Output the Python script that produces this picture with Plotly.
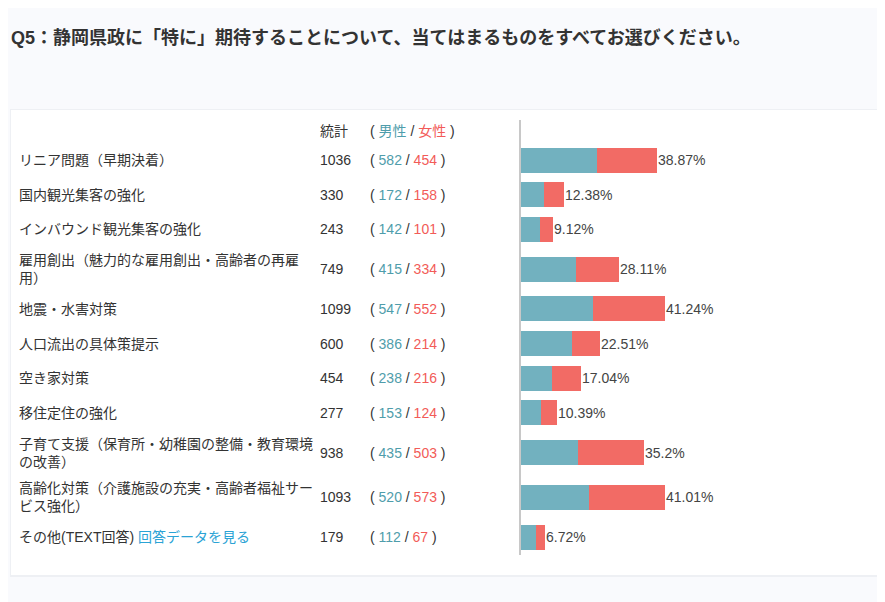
import plotly.graph_objects as go

# données
N = 2665  # nombre de répondants
labels = [
    "リニア問題（早期決着）",
    "国内観光集客の強化",
    "インバウンド観光集客の強化",
    "雇用創出（魅力的な雇用創出・高齢者の再雇<br>用）",
    "地震・水害対策",
    "人口流出の具体策提示",
    "空き家対策",
    "移住定住の強化",
    "子育て支援（保育所・幼稚園の整備・教育環境<br>の改善）",
    "高齢化対策（介護施設の充実・高齢者福祉サー<br>ビス強化）",
    "その他(TEXT回答) <span style='color:#2ba3d5'>回答データを見る</span>",
]
totals = [1036, 330, 243, 749, 1099, 600, 454, 277, 938, 1093, 179]
male = [582, 172, 142, 415, 547, 386, 238, 153, 435, 520, 112]
female = [454, 158, 101, 334, 552, 214, 216, 124, 503, 573, 67]

# la page a une marge de 8px autour de la figure
OFF = 8
W, H = 885, 602


def px(x):
    return (x - OFF) / W


def py(y):
    return 1 - (y - OFF) / H


BLUE = '#72b1bf'
RED = '#f26b65'
TXT_BLUE = '#4f9dab'
TXT_RED = '#f25b58'
FONT = 'Liberation Sans, Noto Sans CJK JP, sans-serif'
FS = 14

# position verticale des lignes (hauteur selon le nombre de lignes du libellé)
heights = [44.7 if '<br>' in l else 34.7 for l in labels]
ys = []
y = 40
for i, h in enumerate(heights):
    if i > 0:
        y += heights[i - 1] / 2 + h / 2
    ys.append(y)

male_pct = [m / N * 100 for m in male]
female_pct = [f / N * 100 for f in female]
tot_pct = [t / N * 100 for t in totals]

fig = go.Figure()
fig.add_trace(go.Bar(y=ys, x=male_pct, orientation='h', width=25,
                     marker=dict(color=BLUE, line=dict(width=0)), showlegend=False))
fig.add_trace(go.Bar(y=ys, x=female_pct, orientation='h', width=25,
                     marker=dict(color=RED, line=dict(width=0)), showlegend=False))

annotations = []
for yy, lab, t, m, f, p in zip(ys, labels, totals, male, female, tot_pct):
    annotations.append(dict(x=px(17), y=yy, xref='paper', yref='y', text=lab,
                            showarrow=False, xanchor='left', yanchor='middle', align='left',
                            font=dict(size=FS, color='#333333')))
    annotations.append(dict(x=px(318), y=yy, xref='paper', yref='y', text=str(t),
                            showarrow=False, xanchor='left', yanchor='middle',
                            font=dict(size=FS, color='#333333')))
    annotations.append(dict(x=px(368), y=yy, xref='paper', yref='y',
                            text=f"( <span style='color:{TXT_BLUE}'>{m}</span> / <span style='color:{TXT_RED}'>{f}</span> )",
                            showarrow=False, xanchor='left', yanchor='middle',
                            font=dict(size=FS, color='#333333')))
    annotations.append(dict(x=p, y=yy, xref='x', yref='y', text=f"{round(p, 2):g}%",
                            showarrow=False, xanchor='left', yanchor='middle', xshift=-1,
                            font=dict(size=FS, color='#444444')))

# en-têtes
annotations.append(dict(x=px(318), y=11, xref='paper', yref='y', text="統計",
                        showarrow=False, xanchor='left', yanchor='middle',
                        font=dict(size=FS, color='#333333')))
annotations.append(dict(x=px(368), y=11, xref='paper', yref='y',
                        text=f"( <span style='color:{TXT_BLUE}'>男性</span> / <span style='color:{TXT_RED}'>女性</span> )",
                        showarrow=False, xanchor='left', yanchor='middle',
                        font=dict(size=FS, color='#333333')))
# titre
annotations.append(dict(x=px(9), y=py(38), xref='paper', yref='paper',
                        text="<b>Q5：静岡県政に「特に」期待することについて、当てはまるものをすべてお選びください。</b>",
                        showarrow=False, xanchor='left', yanchor='middle',
                        font=dict(size=18, color='#333333')))

shapes = [
    # ombre de la carte
    dict(type='rect', xref='paper', yref='paper', x0=px(10), x1=1.02, y0=py(577), y1=py(109),
         fillcolor='#eef0f4', line=dict(width=0), layer='below'),
    # carte
    dict(type='rect', xref='paper', yref='paper', x0=px(11), x1=1.02, y0=py(575), y1=py(110),
         fillcolor='white', line=dict(width=0), layer='below'),
]

fig.update_layout(
    width=W, height=H,
    margin=dict(l=0, r=0, t=0, b=0),
    paper_bgcolor='#f9fafd',
    plot_bgcolor='rgba(0,0,0,0)',
    barmode='stack',
    bargap=0,
    font=dict(family=FONT, size=FS, color='#333333'),
    annotations=annotations,
    shapes=shapes,
    xaxis=dict(domain=[px(521), px(871)], range=[0, 100], visible=False, fixedrange=True),
    yaxis=dict(domain=[py(555), py(120)], range=[435, 0], showline=True,
               linecolor='#c8c8c8', linewidth=1.5, showgrid=False, zeroline=False,
               showticklabels=False, ticks='', fixedrange=True),
)

fig.write_html("out.html")
